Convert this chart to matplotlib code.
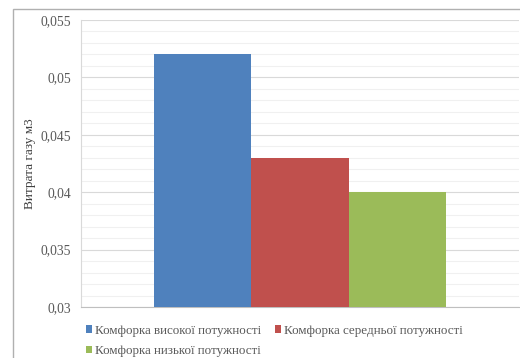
import matplotlib.pyplot as plt
import numpy as np
from matplotlib.patches import Rectangle
from matplotlib.ticker import MultipleLocator, FuncFormatter

plt.rcParams['font.family'] = ['Liberation Serif', 'DejaVu Serif']

# витрата газу для кожної конфорки
names = ['Комфорка високої потужності', 'Комфорка середньої потужності',
         'Комфорка низької потужності']
values = [0.052, 0.043, 0.040]
colors = ['#4F81BD', '#C0504D', '#9BBB59']

fig = plt.figure(figsize=(5.2, 3.58), dpi=100)
# рамка діаграми
fig.patches.append(Rectangle((13 / 520, -0.1), 1.2, 1 - 9 / 358 + 0.1,
                             transform=fig.transFigure, fill=False,
                             edgecolor='#b0b0b0', linewidth=1.0))

ax = fig.add_axes([81 / 520, 1 - 307 / 358, 438 / 520, 287 / 358])

w = 1 / 4.5
bars = []
for i, (n, v, c) in enumerate(zip(names, values, colors)):
    bars.append(ax.bar((i - 1) * w, v, width=w, color=c, label=n, zorder=3))

ax.set_xlim(-0.5, 0.5)
ax.set_ylim(0.03, 0.055)
ax.yaxis.set_major_locator(MultipleLocator(0.005))
ax.yaxis.set_minor_locator(MultipleLocator(0.001))
ax.yaxis.set_major_formatter(FuncFormatter(lambda y, p: ('%g' % round(y, 4)).replace('.', ',')))
ax.grid(which='major', axis='y', color='#d9d9d9', linewidth=0.8, zorder=0)
ax.grid(which='minor', axis='y', color='#f0f0f0', linewidth=0.8, zorder=0)
ax.set_xticks([])
ax.tick_params(axis='y', which='both', length=0, labelsize=9.8, labelcolor='#595959', pad=7)
for s in ['top', 'right']:
    ax.spines[s].set_visible(False)
ax.spines['left'].set_color('#d9d9d9')
ax.spines['bottom'].set_color('#bfbfbf')
ax.set_ylabel('Витрата газу м3', fontsize=9.5, color='#404040', labelpad=3)

# легенда по рядках: висока, середня / низька
order = [0, 2, 1]
fig.legend([bars[k] for k in order], [names[k] for k in order],
           loc='upper left', bbox_to_anchor=(79 / 520, 1 - 318 / 358), ncol=2,
           frameon=False, fontsize=9.4, labelcolor='#595959',
           handlelength=0.5, handleheight=0.5, handletextpad=0.25,
           columnspacing=1.0, labelspacing=0.65, borderpad=0)

fig.savefig('out.png', dpi=100)
